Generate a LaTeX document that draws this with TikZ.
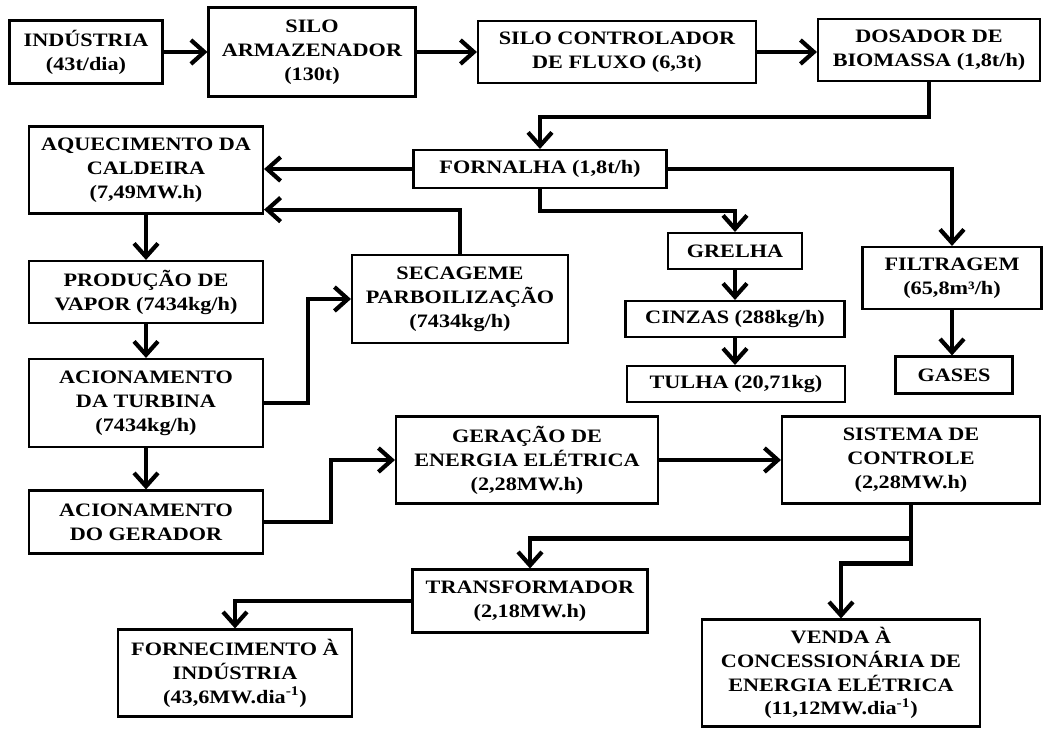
\documentclass[tikz,border=0pt]{standalone}
\usepackage{fontspec}
\setmainfont{Liberation Serif}[FakeStretch=1.17]
\usetikzlibrary{arrows.meta, positioning, calc}

\begin{document}
\begin{tikzpicture}[x=0.025cm, y=-0.025cm,
  every node/.style={font=\bfseries\fontsize{13.5}{17}\selectfont},
  box/.style={draw, line width=1.5pt, align=center, inner sep=0pt},
  sz/.style 2 args={minimum width=#1*0.025cm, minimum height=#2*0.025cm},
  arr/.style={line width=3pt, -{Straight Barb[length=9.5pt, width=17pt]}}]
\useasboundingbox (0,0) rectangle (1043,729);
% fuel line
\node[box, sz={153}{63}] (ind) at (86,52) {INDÚSTRIA\\(43t/dia)};
\node[box, sz={207}{89}] (silo) at (312,52) {SILO\\ARMAZENADOR\\(130t)};
\node[box, sz={278}{62}] (ctrl) at (617,52) {SILO CONTROLADOR\\DE FLUXO (6,3t)};
\node[box, sz={222}{62}] (dos) at (929,50) {DOSADOR DE\\BIOMASSA (1,8t/h)};
\node[box, sz={253}{38}] (forn) at (540,169) {FORNALHA (1,8t/h)};
% steam side
\node[box, sz={234}{87}] (aquec) at (146,170) {AQUECIMENTO DA\\CALDEIRA\\(7,49MW.h)};
\node[box, sz={234}{62}] (prod) at (146,292) {PRODUÇÃO DE\\VAPOR (7434kg/h)};
\node[box, sz={216}{88}] (sec) at (460,299) {SECAGEME\\PARBOILIZAÇÃO\\(7434kg/h)};
\node[box, sz={234}{88}] (turb) at (146,403) {ACIONAMENTO\\DA TURBINA\\(7434kg/h)};
\node[box, sz={234}{63}] (ger) at (146,522) {ACIONAMENTO\\DO GERADOR};
% residues
\node[box, sz={134}{36}] (grel) at (735,251) {GRELHA};
\node[box, sz={219}{36}] (cinz) at (735,319) {CINZAS (288kg/h)};
\node[box, sz={218}{36}] (tulha) at (736,384) {TULHA (20,71kg)};
\node[box, sz={179}{62}] (filt) at (952,278) {FILTRAGEM\\(65,8m³/h)};
\node[box, sz={117}{37}] (gas) at (954,375) {GASES};
% electricity
\node[box, sz={262}{87}] (gera) at (527,460) {GERAÇÃO DE\\ENERGIA ELÉTRICA\\(2,28MW.h)};
\node[box, sz={258}{87}] (sist) at (911,460) {SISTEMA DE\\CONTROLE\\(2,28MW.h)};
\node[box, sz={235}{63}] (trafo) at (530,601) {TRANSFORMADOR\\(2,18MW.h)};
\node[box, sz={234}{87}] (forne) at (235,673) {FORNECIMENTO À\\INDÚSTRIA\\(43,6MW.dia\textsuperscript{-1})};
\node[box, sz={278}{107}] (venda) at (841,673) {VENDA À\\CONCESSIONÁRIA DE\\ENERGIA ELÉTRICA\\(11,12MW.dia\textsuperscript{-1})};

\draw[arr] (ind) -- (silo);
\draw[arr] (silo) -- (ctrl);
\draw[arr] (ctrl.east) -- (ctrl.east -| dos.west);
\draw[arr] (dos.south) -- ++(0,35) -| (forn.north);
\draw[arr] (forn.west) -- (aquec.east |- forn.west);
\draw[arr] (sec.north) |- ([yshift=3.5pt]aquec.south east);
\draw[arr] (turb.east) -- ++(44,0) |- (sec.west);
\draw[arr] (ger.east) -- ++(67,0) |- (gera.west);
\draw[arr] (gera.east) -- (sist.west);
\draw[arr] (forn.south) -- ++(0,22) -| (grel.north);
\draw[arr] (forn.east) -| (filt.north);
\draw[arr] (sist.south) -- ++(0,34) -| (trafo.north);
\draw[arr] (sist.south) -- ++(0,59) -| (venda.north);
\draw[arr] (trafo.west) -| (forne.north);
\foreach \a/\b in {aquec/prod, prod/turb, turb/ger, grel/cinz, cinz/tulha, filt/gas}
  { \draw[arr] (\a.south) -- (\a.south |- \b.north); }
\end{tikzpicture}
\end{document}
